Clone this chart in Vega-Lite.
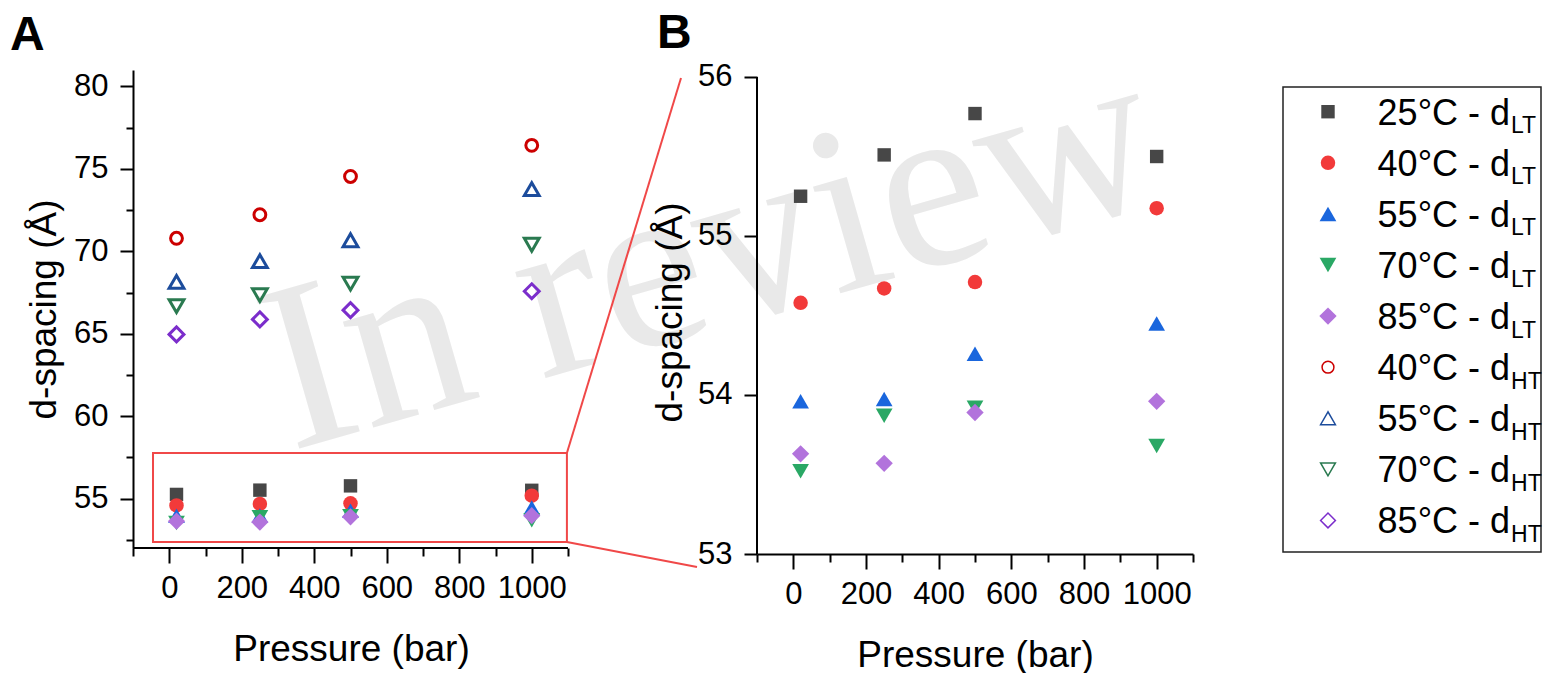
{
"$schema":"https://vega.github.io/schema/vega-lite/v6.json",
"background":"white",
"padding":{"left":10,"top":10,"right":0,"bottom":0},
"config":{"view":{"stroke":null},
"axis":{"domainColor":"black","domainWidth":2,"tickColor":"black","tickWidth":2,"labelColor":"black","labelFont":"Liberation Sans","labelFontSize":31,"titleFont":"Liberation Sans","titleFontSize":37,"titleFontWeight":"normal","titleColor":"black","grid":false,"labelFlush":false,"labelOverlap":false}},
"datasets":{
"pts":[
{"s":"25LT","t":"LT","p":20,"d":55.25},{"s":"25LT","t":"LT","p":250,"d":55.51},{"s":"25LT","t":"LT","p":500,"d":55.77},{"s":"25LT","t":"LT","p":1000,"d":55.50},
{"s":"40LT","t":"LT","p":20,"d":54.58},{"s":"40LT","t":"LT","p":250,"d":54.67},{"s":"40LT","t":"LT","p":500,"d":54.71},{"s":"40LT","t":"LT","p":1000,"d":55.175},
{"s":"55LT","t":"LT","p":20,"d":53.96},{"s":"55LT","t":"LT","p":250,"d":53.975},{"s":"55LT","t":"LT","p":500,"d":54.26},{"s":"55LT","t":"LT","p":1000,"d":54.45},
{"s":"70LT","t":"LT","p":20,"d":53.52},{"s":"70LT","t":"LT","p":250,"d":53.87},{"s":"70LT","t":"LT","p":500,"d":53.92},{"s":"70LT","t":"LT","p":1000,"d":53.68},
{"s":"85LT","t":"LT","p":20,"d":53.63},{"s":"85LT","t":"LT","p":250,"d":53.57},{"s":"85LT","t":"LT","p":500,"d":53.89},{"s":"85LT","t":"LT","p":1000,"d":53.96},
{"s":"40HT","t":"HT","p":20,"d":70.79},{"s":"40HT","t":"HT","p":250,"d":72.22},{"s":"40HT","t":"HT","p":500,"d":74.54},{"s":"40HT","t":"HT","p":1000,"d":76.43},
{"s":"55HT","t":"HT","p":20,"d":68.15},{"s":"55HT","t":"HT","p":250,"d":69.40},{"s":"55HT","t":"HT","p":500,"d":70.67},{"s":"55HT","t":"HT","p":1000,"d":73.77},
{"s":"70HT","t":"HT","p":20,"d":66.67},{"s":"70HT","t":"HT","p":250,"d":67.34},{"s":"70HT","t":"HT","p":500,"d":68.04},{"s":"70HT","t":"HT","p":1000,"d":70.40},
{"s":"85HT","t":"HT","p":20,"d":64.96},{"s":"85HT","t":"HT","p":250,"d":65.87},{"s":"85HT","t":"HT","p":500,"d":66.43},{"s":"85HT","t":"HT","p":1000,"d":67.58}
],
"leg":[
{"s":"25LT","t":"LT","i":0,"lab":"25°C - d","sub":"LT"},
{"s":"40LT","t":"LT","i":1,"lab":"40°C - d","sub":"LT"},
{"s":"55LT","t":"LT","i":2,"lab":"55°C - d","sub":"LT"},
{"s":"70LT","t":"LT","i":3,"lab":"70°C - d","sub":"LT"},
{"s":"85LT","t":"LT","i":4,"lab":"85°C - d","sub":"LT"},
{"s":"40HT","t":"HT","i":5,"lab":"40°C - d","sub":"HT"},
{"s":"55HT","t":"HT","i":6,"lab":"55°C - d","sub":"HT"},
{"s":"70HT","t":"HT","i":7,"lab":"70°C - d","sub":"HT"},
{"s":"85HT","t":"HT","i":8,"lab":"85°C - d","sub":"HT"}
]
},
"spacing":90,
"bounds":"flush",
"hconcat":[
{
"width":534,"height":478,
"encoding":{
 "x":{"field":"p","type":"quantitative","scale":{"domain":[-100,1373.1],"nice":false,"zero":false},
      "axis":{"values":[-100,0,100,200,300,400,500,600,700,800,900,1000,1100],"domain":false,"format":"d",
              "labelExpr":"datum.value >= 0 && datum.value % 200 === 0 ? datum.label : ''",
              "tickSize":{"condition":{"test":"datum.value < 0 || datum.value % 200 !== 0","value":8},"value":15},
              "title":"Pressure (bar)","titleX":218,"labelPadding":10,"titlePadding":28}},
 "y":{"field":"d","type":"quantitative","scale":{"domain":[52,81],"nice":false,"zero":false},
      "axis":{"values":[52.5,55,57.5,60,62.5,65,67.5,70,72.5,75,77.5,80],"format":"d",
              "labelExpr":"datum.value % 5 === 0 ? datum.label : ''",
              "tickSize":{"condition":{"test":"datum.value % 5 !== 0","value":7},"value":13},
              "title":"d-spacing (Å)","labelPadding":12,"titlePadding":10}},
 "color":{"field":"s","type":"nominal","scale":{"domain":["25LT","40LT","55LT","70LT","85LT","40HT","55HT","70HT","85HT"],"range":["#474747","#f23a3a","#1a66dd","#2aa865","#b273dc","#cc0000","#1c4c9c","#2a7a50","#7b2dcb"]},"legend":null},
 "shape":{"field":"s","type":"nominal","scale":{"domain":["25LT","40LT","55LT","70LT","85LT","40HT","55HT","70HT","85HT"],"range":["square","circle","triangle-up","triangle-down","diamond","circle","triangle-up","triangle-down","diamond"]},"legend":null},
 "size":{"field":"s","type":"nominal","scale":{"type":"ordinal","domain":["25LT","40LT","55LT","70LT","85LT","40HT","55HT","70HT","85HT"],"range":[180,210,280,280,300,140,220,220,220]},"legend":null}
},
"layer":[
{"data":{"values":[{"p":336,"d":57.89}]},
 "mark":{"type":"text","text":"In review","font":"Liberation Serif","fontSize":240,"angle":-16,"align":"left","baseline":"alphabetic","color":"#e9e9e9"},
 "encoding":{"color":{"value":"#e9e9e9"},"shape":null,"size":null}},
{"data":{"values":[{"p":-44.8,"p2":1097,"d":52.36,"d2":57.76}]},
 "mark":{"type":"rect","fillOpacity":0,"stroke":"#f04848","strokeWidth":2},
 "encoding":{"x2":{"field":"p2"},"y2":{"field":"d2"},"color":{"value":"#f04848"},"shape":null,"size":null}},
{"data":{"values":[{"p":1097,"p2":1411.7,"d":57.76,"d2":80.51},{"p":1097,"p2":1455.9,"d":52.36,"d2":50.85}]},
 "mark":{"type":"rule","stroke":"#f04848","strokeWidth":2},
 "encoding":{"x2":{"field":"p2"},"y2":{"field":"d2"},"color":{"value":"#f04848"},"shape":null,"size":null}},
{"data":{"values":[{"p":-100,"p2":1100,"d":52}]},
 "mark":{"type":"rule","stroke":"black","strokeWidth":2},
 "encoding":{"x2":{"field":"p2"},"color":{"value":"black"},"shape":null,"size":null}},
{"data":{"name":"pts"},
 "transform":[{"filter":"datum.t === 'LT'"}],
 "mark":{"type":"point","filled":true,"opacity":1}},
{"data":{"name":"pts"},
 "transform":[{"filter":"datum.t === 'HT'"}],
 "mark":{"type":"point","filled":false,"opacity":1,"strokeWidth":3}},
{"data":{"values":[{"p":-439,"d":82.21}]},
 "mark":{"type":"text","text":"A","font":"Liberation Sans","fontSize":48,"fontWeight":"bold","align":"left","baseline":"alphabetic"},
 "encoding":{"color":{"value":"black"},"shape":null,"size":null}}
]
},
{
"width":436,"height":484,
"encoding":{
 "x":{"field":"p","type":"quantitative","scale":{"domain":[-100,1100],"nice":false,"zero":false},
      "axis":{"values":[-100,0,100,200,300,400,500,600,700,800,900,1000,1100],"format":"d",
              "labelExpr":"datum.value >= 0 && datum.value % 200 === 0 ? datum.label : ''",
              "tickSize":{"condition":{"test":"datum.value < 0 || datum.value % 200 !== 0","value":8},"value":15},
              "title":"Pressure (bar)","labelPadding":10,"titlePadding":28}},
 "y":{"field":"d","type":"quantitative","scale":{"domain":[53,56.044],"nice":false,"zero":false},
      "axis":{"values":[53,53.5,54,54.5,55,55.5,56],"domain":false,"format":"d",
              "labelExpr":"datum.value % 1 === 0 ? datum.label : ''",
              "tickSize":{"condition":{"test":"datum.value % 1 !== 0","value":7},"value":13},
              "title":"d-spacing (Å)","labelPadding":12,"titlePadding":8}},
 "color":{"field":"s","type":"nominal","scale":{"domain":["25LT","40LT","55LT","70LT","85LT","40HT","55HT","70HT","85HT"],"range":["#474747","#f23a3a","#1a66dd","#2aa865","#b273dc","#cc0000","#1c4c9c","#2a7a50","#7b2dcb"]},"legend":null},
 "shape":{"field":"s","type":"nominal","scale":{"domain":["25LT","40LT","55LT","70LT","85LT","40HT","55HT","70HT","85HT"],"range":["square","circle","triangle-up","triangle-down","diamond","circle","triangle-up","triangle-down","diamond"]},"legend":null},
 "size":{"field":"s","type":"nominal","scale":{"type":"ordinal","domain":["25LT","40LT","55LT","70LT","85LT","40HT","55HT","70HT","85HT"],"range":[180,210,280,280,300,140,220,220,220]},"legend":null}
},
"layer":[
{"data":{"values":[{"p":-100,"d":53,"d2":56}]},
 "mark":{"type":"rule","stroke":"black","strokeWidth":2},
 "encoding":{"y2":{"field":"d2"},"color":{"value":"black"},"shape":null,"size":null}},
{"data":{"name":"pts"},
 "transform":[{"filter":"datum.t === 'LT'"}],
 "mark":{"type":"point","filled":true,"opacity":1}},
{"data":{"values":[{"p":-375,"d":56.182}]},
 "mark":{"type":"text","text":"B","font":"Liberation Sans","fontSize":48,"fontWeight":"bold","align":"left","baseline":"alphabetic"},
 "encoding":{"color":{"value":"black"},"shape":null,"size":null}}
]
},
{
"width":258,"height":482,
"layer":[
{"data":{"values":[{}]},
 "mark":{"type":"rect","fillOpacity":0,"stroke":"#222222","strokeWidth":1.5},
 "encoding":{"x":{"datum":0,"type":"quantitative","scale":{"domain":[0,1],"nice":false,"zero":false},"axis":null},"x2":{"datum":1},
             "y":{"datum":-0.483,"type":"quantitative","scale":{"domain":[-0.816,8.617],"nice":false,"zero":false,"reverse":true},"axis":null},"y2":{"datum":8.617}}},
{"data":{"name":"leg"},
 "transform":[{"filter":"datum.t === 'LT'"}],
 "mark":{"type":"point","filled":true,"opacity":1},
 "encoding":{
  "x":{"datum":0.1744,"type":"quantitative","scale":{"domain":[0,1],"nice":false,"zero":false},"axis":null},
  "y":{"field":"i","type":"quantitative","scale":{"domain":[-0.816,8.617],"nice":false,"zero":false,"reverse":true},"axis":null},
  "color":{"field":"s","type":"nominal","scale":{"domain":["25LT","40LT","55LT","70LT","85LT","40HT","55HT","70HT","85HT"],"range":["#474747","#f23a3a","#1a66dd","#2aa865","#b273dc","#cc0000","#1c4c9c","#2a7a50","#7b2dcb"]},"legend":null},
  "shape":{"field":"s","type":"nominal","scale":{"domain":["25LT","40LT","55LT","70LT","85LT","40HT","55HT","70HT","85HT"],"range":["square","circle","triangle-up","triangle-down","diamond","circle","triangle-up","triangle-down","diamond"]},"legend":null},
  "size":{"field":"s","type":"nominal","scale":{"type":"ordinal","domain":["25LT","40LT","55LT","70LT","85LT","40HT","55HT","70HT","85HT"],"range":[180,210,280,280,300,140,220,220,220]},"legend":null}
 }},
{"data":{"name":"leg"},
 "transform":[{"filter":"datum.t === 'HT'"}],
 "mark":{"type":"point","filled":false,"opacity":1,"strokeWidth":1.5},
 "encoding":{
  "x":{"datum":0.1744,"type":"quantitative","scale":{"domain":[0,1],"nice":false,"zero":false},"axis":null},
  "y":{"field":"i","type":"quantitative","scale":{"domain":[-0.816,8.617],"nice":false,"zero":false,"reverse":true},"axis":null},
  "color":{"field":"s","type":"nominal","scale":{"domain":["25LT","40LT","55LT","70LT","85LT","40HT","55HT","70HT","85HT"],"range":["#474747","#f23a3a","#1a66dd","#2aa865","#b273dc","#cc0000","#1c4c9c","#2a7a50","#7b2dcb"]},"legend":null},
  "shape":{"field":"s","type":"nominal","scale":{"domain":["25LT","40LT","55LT","70LT","85LT","40HT","55HT","70HT","85HT"],"range":["square","circle","triangle-up","triangle-down","diamond","circle","triangle-up","triangle-down","diamond"]},"legend":null},
  "size":{"field":"s","type":"nominal","scale":{"type":"ordinal","domain":["25LT","40LT","55LT","70LT","85LT","40HT","55HT","70HT","85HT"],"range":[180,210,280,280,300,140,220,220,220]},"legend":null}
 }},
{"data":{"name":"leg"},
 "mark":{"type":"text","font":"Liberation Sans","fontSize":36,"align":"right","baseline":"alphabetic","dy":13,"color":"black"},
 "encoding":{
  "x":{"datum":0.88,"type":"quantitative","scale":{"domain":[0,1],"nice":false,"zero":false},"axis":null},
  "y":{"field":"i","type":"quantitative","scale":{"domain":[-0.816,8.617],"nice":false,"zero":false,"reverse":true},"axis":null},
  "text":{"field":"lab"}
 }},
{"data":{"name":"leg"},
 "mark":{"type":"text","font":"Liberation Sans","fontSize":23,"align":"left","baseline":"alphabetic","dy":21.6,"dx":1,"color":"black"},
 "encoding":{
  "x":{"datum":0.88,"type":"quantitative","scale":{"domain":[0,1],"nice":false,"zero":false},"axis":null},
  "y":{"field":"i","type":"quantitative","scale":{"domain":[-0.816,8.617],"nice":false,"zero":false,"reverse":true},"axis":null},
  "text":{"field":"sub"}
 }}
]
}
]
}
